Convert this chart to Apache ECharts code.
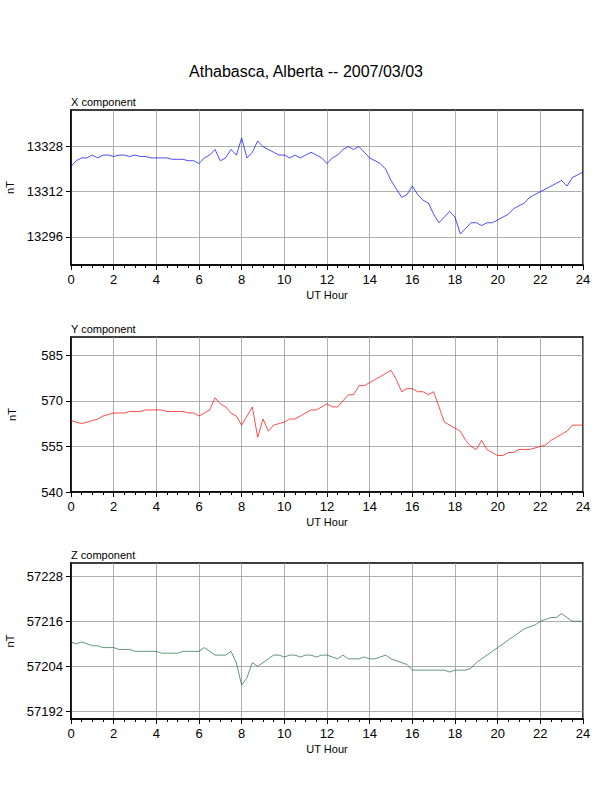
<!DOCTYPE html>
<html>
<head>
<meta charset="utf-8">
<script src="https://cdn.jsdelivr.net/npm/echarts@6/dist/echarts.min.js"></script>
<style>html,body{margin:0;padding:0;background:#fff}#c{width:612px;height:792px}</style>
</head>
<body>
<div id="c"></div>
<script>
// hourly sample points, 0.25 h apart
var hours = [];
for (var i = 0; i <= 96; i++) hours.push(i / 4);

var xComp = [13321,
 13323,13324,13324,13325, 13324,13325,13325,13324.5, 13325,13325,13324.5,13325,
 13324.5,13324.5,13324,13324, 13324,13324,13323.5,13323.5, 13323.5,13323,13323,13322,
 13324,13325,13327,13323, 13324,13327,13325,13331, 13324,13326,13330,13328,
 13327,13326,13325,13325, 13324,13325,13324,13325, 13326,13325,13324,13322,
 13324,13325,13327,13328, 13327,13328,13326,13324, 13323,13322,13320,13316,
 13313,13310,13311,13314, 13311,13309,13308,13304, 13301,13303,13305,13303,
 13297,13299,13301,13301, 13300,13301,13301,13302, 13303,13304,13306,13307,
 13308,13310,13311,13312, 13313,13314,13315,13316, 13314,13317,13318,13319];

var yComp = [563.5,
 563,562.5,563,563.5, 564,565,565.5,566, 566,566,566.5,566.5,
 566.5,567,567,567, 567,566.5,566.5,566.5, 566.5,566,566,565,
 566,567,571,569, 568,566,565,562, 565,568,558,564,
 560,562,562.5,563, 564,564,565,566, 567,567,568,569,
 568,568,570,572, 572,575,575,576, 577,578,579,580,
 577,573,574,574, 573,573,572,573, 568,563,562,561,
 560,557,555,554, 557,554,553,552, 552,553,553,554,
 554,554,554.5,555, 555.5,557,558,559, 560,562,562,562];

var zComp = [57210.5,
 57210,57210.5,57210,57209.5, 57209.5,57209,57209,57209, 57208.5,57208.5,57208.5,57208,
 57208,57208,57208,57208, 57207.5,57207.5,57207.5,57207.5, 57208,57208,57208,57208,
 57209,57208,57207,57207, 57207,57208,57205,57199, 57201,57205,57204,57205,
 57206,57207,57207,57206.5, 57207,57207,57206.5,57207, 57207,57206.5,57207,57207,
 57206.5,57206,57207,57206, 57206,57206,57206.5,57206, 57206,57206.5,57207,57206,
 57205.5,57205,57204.5,57203, 57203,57203,57203,57203, 57203,57203,57202.5,57203,
 57203,57203,57203.5,57205, 57206,57207,57208,57209, 57210,57211,57212,57213,
 57214,57214.5,57215,57216, 57216.5,57217,57217,57218, 57217,57216,57216,57216];

var panels = [
  {name: 'X component', data: xComp, color: '#0000ff', min: 13286, max: 13341, ticks: [13296, 13312, 13328], top: 110, h: 155},
  {name: 'Y component', data: yComp, color: '#ff0000', min: 540, max: 591, ticks: [540, 555, 570, 585], top: 337, h: 155},
  {name: 'Z component', data: zComp, color: '#1e6b3c', min: 57190, max: 57231.5, ticks: [57192, 57204, 57216, 57228], top: 563, h: 156}
];

var font = 'Liberation Sans';
var chart = echarts.init(document.getElementById('c'), null, {renderer: 'svg'});
var option = {
  backgroundColor: '#fff', animation: false,
  title: [{text: 'Athabasca, Alberta -- 2007/03/03', left: 'center', top: 58,
    textStyle: {fontFamily: font, fontSize: 16, fontWeight: 'normal', color: '#000'}}],
  grid: [], xAxis: [], yAxis: [], series: []
};
panels.forEach(function (p, k) {
  option.title.push({text: p.name, left: 66, top: p.top - 19,
    textStyle: {fontFamily: font, fontSize: 11, fontWeight: 'normal', color: '#000'}});
  option.grid.push({left: 71, right: 29, top: p.top, height: p.h, show: true,
    containLabel: false, outerBoundsMode: 'none',
    borderColor: '#000', borderWidth: 1.5, backgroundColor: 'transparent'});
  option.xAxis.push({type: 'value', gridIndex: k, min: 0, max: 24, interval: 2,
    name: 'UT Hour', nameLocation: 'middle', nameGap: 24,
    nameTextStyle: {fontFamily: font, fontSize: 11, color: '#000'},
    axisLine: {show: true, lineStyle: {color: '#000', width: 1.5}},
    axisTick: {show: true, length: 5, lineStyle: {color: '#000'}},
    minorTick: {show: true, splitNumber: 4, length: 3, lineStyle: {color: '#000'}},
    axisLabel: {fontFamily: font, fontSize: 13, color: '#000', margin: 8},
    splitLine: {show: true, lineStyle: {color: '#999', width: 0.8}}});
  option.yAxis.push({type: 'value', gridIndex: k, min: p.min, max: p.max,
    name: 'nT', nameLocation: 'middle', nameGap: 54, nameRotate: 90,
    nameTextStyle: {fontFamily: font, fontSize: 11, color: '#000'},
    axisLine: {show: true, lineStyle: {color: '#000', width: 1.5}},
    axisTick: {show: true, length: 5, lineStyle: {color: '#000'},
      customValues: p.ticks},
    axisLabel: {fontFamily: font, fontSize: 13, color: '#000', margin: 8,
      customValues: p.ticks, formatter: function (v) { return String(v); }},
    splitLine: {show: true, lineStyle: {color: '#999', width: 0.8}}});
  option.series.push({type: 'line', xAxisIndex: k, yAxisIndex: k, showSymbol: false,
    data: hours.map(function (h, i) { return [h, p.data[i]]; }),
    lineStyle: {color: p.color, width: 0.7}});
});
chart.setOption(option);
</script>
</body>
</html>
